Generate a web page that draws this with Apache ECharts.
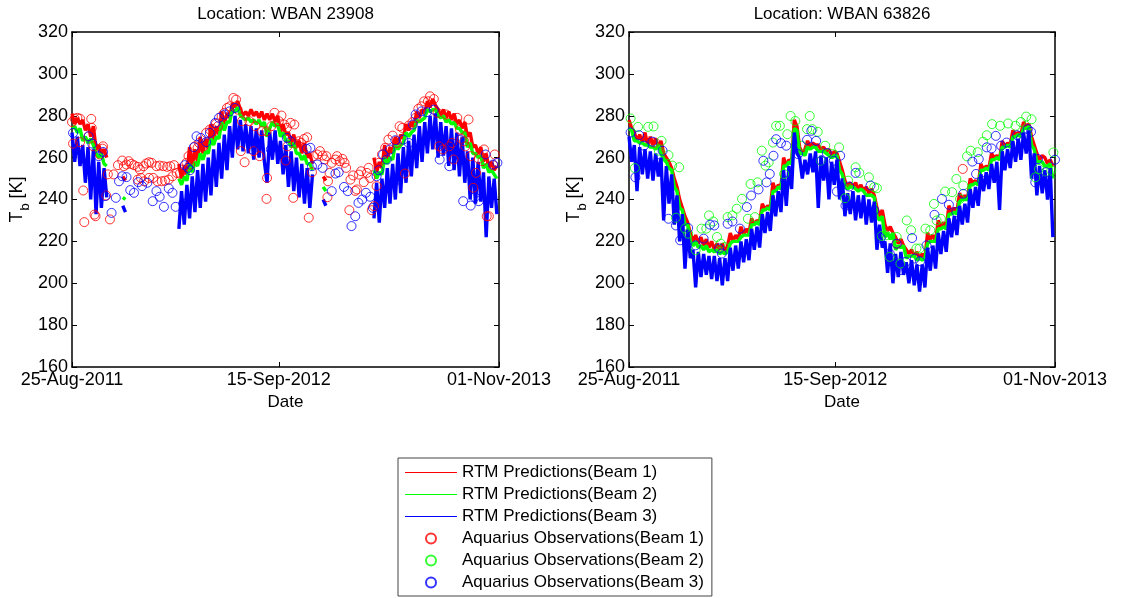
<!DOCTYPE html>
<html><head><meta charset="utf-8">
<script src="https://cdn.jsdelivr.net/npm/echarts@6/dist/echarts.min.js"></script>
<style>html,body{margin:0;padding:0;background:#fff}#c{width:1125px;height:598px}</style>
</head><body><div id="c"></div>
<script>
const FONT = 'Liberation Sans, Arial, Helvetica, sans-serif';
const titles = ['Location: WBAN 23908', 'Location: WBAN 63826'];
const tickDays = [0, 387, 799];
const tickLabels = ['25-Aug-2011', '15-Sep-2012', '01-Nov-2013'];
const xName = 'Date';
const names = ['RTM Predictions(Beam 1)', 'RTM Predictions(Beam 2)', 'RTM Predictions(Beam 3)',
  'Aquarius Observations(Beam 1)', 'Aquarius Observations(Beam 2)', 'Aquarius Observations(Beam 3)'];
const colors = ['#ff0000', '#00ff00', '#0000ff'];
const lineStepDays = 5; // RTM samples, days since 25-Aug-2011

// ---- WBAN 23908 RTM predictions ----
const rtmL1 = [281,276,279,276,278,273,276,270,275,264,
266,262,264,260,null,null,null,null,null,251,
249,null,null,null,null,null,null,null,null,null,
null,null,null,null,null,null,null,null,null,null,
257,250,256,252,265,256,264,258,270,262,
269,264,276,268,275,271,282,276,281,279,
286,284,287,283,280,282,280,283,280,282,
279,282,278,281,278,281,277,280,272,276,
271,272,267,271,265,268,262,267,260,262,
257,null,null,null,251,249,null,null,null,null,
null,null,null,null,null,null,null,null,null,null,
null,null,null,260,253,258,255,266,259,265,
262,270,266,271,269,276,273,277,275,282,
279,283,281,287,284,288,285,283,280,283,
279,282,278,281,276,278,274,277,270,272,
265,266,262,265,258,262,255,258,254,256];
const rtmL2 = [274,275,272,274,268,270,267,269,266,262,
260,262,257,256,null,null,null,null,null,241,
240,null,null,null,null,null,null,null,null,null,
null,null,null,null,null,null,null,null,null,null,
250,247,251,249,257,253,258,256,262,259,
263,262,269,266,270,269,277,273,277,277,
283,282,284,280,279,278,279,277,278,276,
278,275,277,270,274,277,275,276,270,272,
268,268,265,267,262,262,259,261,257,257,
254,null,null,null,246,244,null,null,null,null,
null,null,null,null,null,null,null,null,null,null,
null,null,null,254,250,253,252,260,257,260,
259,266,264,266,267,272,270,272,273,278,
277,278,279,283,282,283,283,280,279,280,
277,278,276,277,274,274,272,272,265,267,
262,262,260,261,255,257,253,254,252,250];
const rtmL3 = [272,258,270,256,266,248,265,240,264,233,
258,236,255,241,null,null,null,null,null,237,
234,null,null,null,null,null,null,null,null,null,
null,null,null,null,null,null,null,null,null,null,
226,244,228,247,231,251,234,254,236,257,
239,260,242,264,246,267,250,271,254,275,
260,280,264,278,263,276,262,275,259,274,
260,273,258,248,272,259,273,257,268,252,
266,246,263,244,260,241,257,238,255,236,
252,null,null,null,240,237,null,null,null,null,
null,null,null,null,null,null,null,null,null,null,
null,null,null,231,248,229,250,236,255,238,
257,240,262,243,265,248,268,251,271,255,
275,258,277,262,280,264,281,260,277,261,
275,256,274,254,272,251,270,248,263,240,
260,238,258,239,253,222,251,236,250,233];

// ---- WBAN 63826 RTM predictions ----
const rtmR1 = [278,274,272,268,271,267,272,266,270,266,
269,265,268,262,260,258,255,250,246,240,
236,232,229,224,220,223,219,222,218,221,
217,220,216,219,216,219,215,218,224,220,
223,221,227,223,226,224,231,228,230,229,
238,235,237,236,248,244,247,246,260,256,
259,258,278,275,265,262,264,268,265,267,
266,266,264,265,263,264,261,263,262,258,
254,249,246,248,246,248,245,247,244,246,
243,245,242,236,232,235,228,225,227,224,
222,219,221,218,216,214,216,213,215,212,
214,212,224,221,223,220,230,227,229,226,
237,234,236,234,243,240,242,240,250,248,
249,247,257,254,256,255,262,260,261,259,
268,265,267,266,273,271,272,271,277,275,
276,270,266,262,259,261,260,257,259,256];
const rtmR2 = [274,273,268,268,267,267,266,266,265,265,
264,266,262,259,258,255,254,246,244,236,
235,228,228,220,218,220,217,218,216,218,
215,216,215,216,214,215,214,215,219,220,
220,220,222,223,223,223,228,228,229,228,
235,235,236,235,244,244,246,245,256,256,
258,257,274,273,262,262,261,265,264,265,
265,263,263,263,262,261,260,261,261,254,
252,246,245,246,246,245,244,245,244,242,
242,242,241,232,230,232,222,224,221,224,
216,218,217,218,212,213,213,213,211,212,
211,212,219,220,220,220,226,226,227,226,
233,233,234,233,239,240,240,240,247,247,
248,247,254,254,255,254,259,259,260,259,
265,265,266,265,270,270,271,270,274,274,
275,266,264,258,258,258,256,256,257,250];
const rtmR3 = [270,258,266,244,265,252,264,250,263,249,
262,251,260,230,256,238,252,228,242,220,
233,207,226,212,216,198,215,203,214,204,
213,202,213,201,212,199,212,201,217,206,
218,207,220,210,221,211,226,216,227,217,
233,224,234,225,242,232,244,234,254,237,
256,245,272,262,260,250,259,252,262,253,
263,236,261,249,260,240,258,247,259,240,
250,232,243,233,244,230,242,231,242,228,
240,229,239,216,228,217,220,205,219,200,
214,203,215,204,210,200,211,199,209,196,
209,198,217,206,218,207,224,214,225,215,
231,222,232,223,237,228,238,229,245,236,
246,237,252,244,253,245,257,248,258,235,
263,254,264,255,268,258,269,259,272,262,
273,250,262,242,256,243,254,240,255,222];

// ---- Aquarius observations: [days since 25-Aug-2011, Tb] ----
const obsL1 = [[0,277],[2,266.7],[5,278.6],[10,279],[15,278.6],[15,267.4],[21,244.3],[23,229.2],[31,270.2],[36,278.5],[37,274.2],[40,265.4],[42,232.8],[44,232],[52,261.5],[57,264.3],[58,265.4],[64,241.9],[67,252],[71,230.5],[78,252],[86,256.4],[94,258.6],[97,255.9],[102,256.7],[106,258.3],[111,257],[116,256.4],[123,255.6],[127,254.3],[134,255.9],[139,257.2],[144,257.8],[149,257.5],[158,255.9],[164,256.2],[171,255.9],[178,255.6],[184,255.9],[191,256.4],
[123,249.5],[129,250.3],[135,248.7],[144,250.3],[152,250.3],[160,248.7],[168,248.7],[174,249],[181,249.5],[188,251.1],[196,252.7],[202,252.4],
[208,254.3],[214,257.5],[218,260.7],[221,256.7],[225,260.7],[230,265.4],[235,264.7],[238,267],[246,265.4],[251,271.8],[258,273.4],[263,273.7],[269,276.1],[273,275],[280,279.8],[285,281.4],[290,283.7],[295,284.5],[302,288.5],[307,287.7],[310,282.9],
[316,263.1],[318,277.4],[323,257.8],[332,277.4],[340,263.1],[343,275],[351,260.7],[355,272.6],[364,272.6],[365,250.3],[364,240.3],[373,275],[379,281.4],[387,277.4],[392,280.1],[397,275.8],[400,258.6],[402,274.2],[403,265.4],[409,276.6],[414,240.8],[416,275.8],[419,266.7],[424,267.8],[429,267],[434,268.9],[440,269.7],[443,231.3],[449,253],[452,260.7],[459,261.5],[464,263.1],[469,261],[473,259.1],[476,260.7],[478,241.1],[479,248.7],[482,252.7],[486,257.5],[493,259.1],[496,260.7],[501,258.3],[506,259.4],[510,257.5],[513,255.1],[519,234.9],[521,249.5],[526,251.5],[530,244.1],[533,244.8],[537,251.9],[541,253.5],[546,248.3],[552,252.7],[555,255.1],[558,250.3],[561,234.9],[565,236.8],[570,246.4],[574,257.5],[580,261.5],[586,264.7],[592,268.6],[600,270.5],[608,267],[613,275],[618,274.2],[623,252.4],[630,275.3],[637,276.9],[643,279],[648,283.3],[654,284.5],[659,286.9],[666,286.9],[670,289.3],[677,288],[684,281.4],[687,265.4],[694,263.9],[700,280.6],[706,265.4],[711,267],[714,259.1],[721,279],[726,273.4],[729,268.9],[734,267.8],[736,265.4],[742,278.2],[746,260.7],[751,245.6],[756,252.7],[761,259.4],[768,258.3],[771,263.9],[776,232],[780,232],[788,256.4],[791,261.5]];
const obsL2 = [];
const obsL3 = [[2,271.8],[31,270.2],[38,266.7],[50,260.7],[58,262.7],[62,241.6],[74,233.6],[82,240.8],[88,248.7],[94,251.1],[102,250.7],[109,244.5],[116,243.2],[124,248.3],[131,246.4],[141,248],[151,239.2],[158,244],[164,241.3],[172,236.5],[181,245.3],[188,243.2],[194,236.5],[208,238.1],[211,256.4],[217,255.1],[221,254],[228,265],[233,270.2],[241,269.4],[251,267.4],[258,271.8],[268,276.6],[275,279],[285,280.6],[295,282.1],[305,283.7],[338,263.9],[372,263.9],[402,269.4],[409,267.8],[439,264.2],[446,264.7],[449,255.9],[459,256.7],[469,255.1],[486,244],[493,252.4],[499,253],[509,246],[516,244],[523,227.3],[530,232],[536,238.4],[543,240],[550,243.2],[558,241.3],[563,236],[570,251.1],[574,254],[582,261.5],[589,259.1],[595,263.9],[605,268.3],[610,249.5],[620,268.6],[630,267],[638,275.8],[643,280.6],[654,282.1],[664,281.7],[677,282.9],[688,259.1],[697,265.4],[706,255.9],[711,264.7],[726,268.6],[732,239.2],[746,237.1],[754,241.1],[761,239.2],[774,261.5],[788,256.7],[796,257.5]];
const obsR1 = [[49,267.2],[502,218.9],[626,254.6]];
const obsR2 = [[3,278.7],[11,255],[17,274.7],[36,274.7],[46,274.9],[56,263.3],[61,268],[74,261.2],[81,256.2],[88,231.3],[94,255.4],[105,226.1],[111,223.7],[125,215.8],[136,226.1],[145,226.1],[150,232.4],[158,229.5],[165,222.1],[172,218.9],[179,217.3],[185,231.6],[194,232.4],[202,235.6],[212,240.3],[223,230.8],[228,247.4],[236,231.6],[241,248.2],[249,263.3],[256,256.2],[262,257.7],[270,267.2],[276,275.2],[283,275.2],[291,252.2],[297,271.2],[303,279.9],[312,277.5],[324,265.7],[334,273.6],[339,279.9],[344,273.6],[354,272.3],[360,258.5],[368,265.7],[381,261.7],[394,264.9],[405,240.6],[411,249],[425,255.4],[432,252.7],[450,250.6],[460,245.9],[465,245.4],[474,222.6],[482,222.9],[489,212.6],[502,222.1],[509,209.4],[521,230],[529,225.3],[539,216.6],[545,216.6],[556,226.1],[565,225.3],[572,237.9],[577,230],[585,230.8],[593,243.8],[606,243.5],[614,249.8],[621,240.3],[627,246.7],[634,260.6],[641,263.3],[654,262.6],[664,267.6],[671,270.7],[681,276],[696,275.2],[711,276.3],[725,275.2],[735,277],[745,279.6],[755,278.3],[762,250.6],[769,254.6],[782,253.3],[792,253.8],[796,262.5]];
const obsR3 = [[3,272],[12,250.6],[19,270.7],[28,265.7],[44,267.6],[53,257.4],[63,263.3],[74,230.8],[88,227.6],[96,220.5],[111,226.4],[125,218.1],[140,221.3],[152,228],[160,227.6],[169,216.6],[174,214.2],[185,228.4],[194,229.5],[208,226.1],[221,236.4],[229,241.9],[243,244.8],[252,258.5],[258,248.2],[264,252.2],[271,260.9],[276,268.8],[285,266.9],[293,249],[295,265.7],[317,261.7],[334,268.5],[342,272.8],[351,268],[361,258.5],[371,262.2],[384,258.5],[390,243.8],[396,260.9],[406,237.1],[413,246.2],[425,252.7],[453,246.7],[460,234.8],[472,221.6],[489,214.2],[502,218.9],[510,206.3],[519,210.2],[531,221.6],[536,211.8],[546,210.5],[558,218.1],[573,232.7],[587,240.3],[600,237.5],[614,234],[627,242.7],[644,258.1],[651,252.2],[656,259.3],[662,249],[671,264.9],[680,264.4],[688,270.4],[698,265.7],[708,267.2],[728,270.7],[735,269.1],[748,273.6],[754,272.3],[762,248.2],[767,259.3],[782,253],[799,259]];

const panels = [
  {rtm: [rtmL1, rtmL2, rtmL3], obs: [obsL1, obsL2, obsL3]},
  {rtm: [rtmR1, rtmR2, rtmR3], obs: [obsR1, obsR2, obsR3]}
];
const gridPos = [{left: 72, top: 32, width: 427, height: 335}, {left: 629, top: 32, width: 426, height: 335}];

const axLine = {show: true, onZero: false, lineStyle: {color: '#000', width: 1.5}};
const tickStyle = {color: '#000', width: 1};
const xAxis = [], yAxis = [], series = [], title = [];
gridPos.forEach((g, p) => {
  title.push({text: titles[p], left: g.left + g.width / 2, top: 6, textAlign: 'center', padding: 0,
    textStyle: {fontSize: 17, fontWeight: 'normal', color: '#000', fontFamily: FONT}});
  xAxis.push({type: 'value', gridIndex: p, min: 0, max: 799, position: 'bottom',
    axisLine: axLine, splitLine: {show: false},
    axisTick: {show: true, inside: true, length: 5, customValues: tickDays, lineStyle: tickStyle},
    axisLabel: {customValues: tickDays, formatter: v => tickLabels[tickDays.indexOf(v)], fontSize: 18, color: '#000', margin: 4, fontFamily: FONT},
    name: xName, nameLocation: 'middle', nameGap: 19,
    nameTextStyle: {fontSize: 17, color: '#000', fontFamily: FONT}});
  xAxis.push({type: 'value', gridIndex: p, min: 0, max: 799, position: 'top',
    axisLine: axLine, splitLine: {show: false},
    axisTick: {show: true, inside: true, length: 5, customValues: tickDays, lineStyle: tickStyle},
    axisLabel: {show: false}});
  yAxis.push({type: 'value', gridIndex: p, min: 160, max: 320, interval: 20, position: 'left',
    axisLine: axLine, splitLine: {show: false},
    axisTick: {show: true, inside: true, length: 5, lineStyle: tickStyle},
    axisLabel: {fontSize: 18, color: '#000', margin: 4, fontFamily: FONT},
    name: '{t|T}{s|b}{t| [K]}', nameLocation: 'middle', nameGap: 40,
    nameTextStyle: {fontSize: 17, color: '#000', fontFamily: FONT,
      rich: {t: {fontSize: 18, color: '#000', fontFamily: FONT, verticalAlign: 'top', lineHeight: 18},
             s: {fontSize: 13, color: '#000', fontFamily: FONT, verticalAlign: 'top', padding: [11, 0, 0, 1]}}}});
  yAxis.push({type: 'value', gridIndex: p, min: 160, max: 320, interval: 20, position: 'right',
    axisLine: axLine, splitLine: {show: false},
    axisTick: {show: true, inside: true, length: 5, lineStyle: tickStyle},
    axisLabel: {show: false}});
  const ai = p * 2;
  panels[p].rtm.forEach((arr, k) => {
    series.push({type: 'line', name: names[k], xAxisIndex: ai, yAxisIndex: ai,
      data: arr.map((v, i) => [i * lineStepDays, v]), symbol: 'none', connectNulls: false,
      lineStyle: {width: 3.4, color: colors[k], join: 'bevel'}, itemStyle: {color: colors[k]}, z: 2, silent: true});
  });
  panels[p].obs.forEach((arr, k) => {
    series.push({type: 'scatter', name: names[3 + k], xAxisIndex: ai, yAxisIndex: ai,
      data: arr, symbol: 'circle', symbolSize: 9,
      itemStyle: {color: 'rgba(255,255,255,0)', borderColor: colors[k], borderWidth: 1}, z: 3, silent: true});
  });
});

const legendData = names.map((n, i) => i < 3 ? {name: n, icon: 'path://M0,0H52V1H0Z'} : {name: n});

const chart = echarts.init(document.getElementById('c'), null, {renderer: 'canvas'});
chart.setOption({
  animation: false,
  backgroundColor: '#fff',
  title: title,
  grid: gridPos,
  xAxis: xAxis,
  yAxis: yAxis,
  legend: {data: legendData, orient: 'vertical', left: 398, top: 458, selectedMode: false,
    itemWidth: 52, itemHeight: 10, itemGap: 5, padding: [6, 8, 5, 7],
    borderColor: '#444', borderWidth: 1, backgroundColor: '#fff',
    textStyle: {fontSize: 17, lineHeight: 17, color: '#000', fontFamily: FONT}},
  series: series
});
</script></body></html>
